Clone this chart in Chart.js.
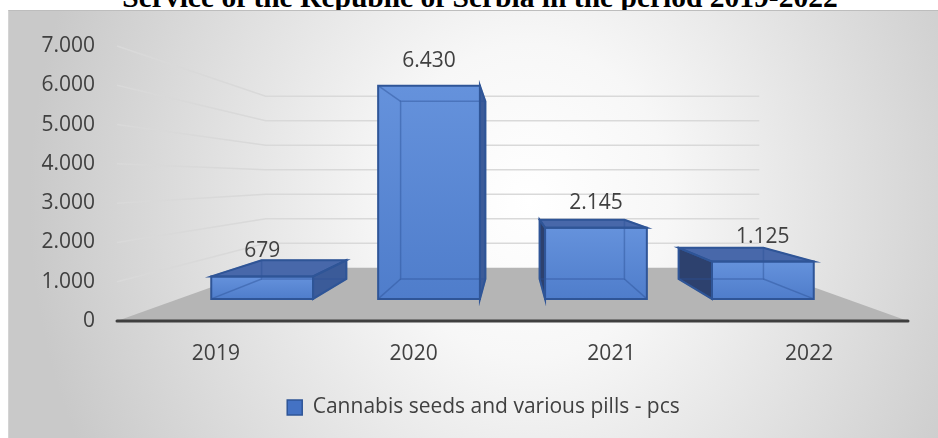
<!DOCTYPE html>
<html>
<head>
<meta charset="utf-8">
<title>Cannabis seeds and various pills</title>
<script src="https://cdn.jsdelivr.net/npm/chart.js@4.4.1/dist/chart.umd.min.js"></script>
<style>
  html, body { margin: 0; padding: 0; background: #fff; overflow: hidden; }
  #wrap { position: relative; width: 938px; height: 438px; overflow: hidden; }
  #heading {
    position: absolute; left: 0; top: -20px; width: 960px;
    text-align: center; white-space: nowrap; color: #000;
    font: bold 29.5px/34px 'Liberation Serif', 'Times New Roman', serif;
  }
  #panel {
    position: absolute; left: 8px; top: 10px; right: 0; bottom: 0;
    border-top: 1px solid #bdbdbd; border-left: 1px solid #d4d4d4;
    background: radial-gradient(ellipse 500px 560px at 520px 190px, #ffffff 0%, #f7f7f7 28%, #c9c9c9 100%);
  }
  #chart { position: absolute; left: 0; top: 0; }
</style>
</head>
<body>
<div id="wrap">
  <div id="heading">Service of the Republic of Serbia in the period 2019-2022</div>
  <div id="panel"></div>
  <canvas id="chart" width="938" height="438"></canvas>
</div>
<script>
const YEARS = ['2019', '2020', '2021', '2022'];
const SEEDS_PILLS = [679, 6430, 2145, 1125];
const SERIES_LABEL = 'Cannabis seeds and various pills - pcs';
const Y_TICK_VALUES = [0, 1000, 2000, 3000, 4000, 5000, 6000, 7000];
const Y_TICK_LABELS = ['0', '1.000', '2.000', '3.000', '4.000', '5.000', '6.000', '7.000'];

const TEXT = '#404040';
const FONT = { family: "'Open Sans', 'Noto Sans', sans-serif", size: 21 };

// depth of each plane, as a fraction of the way to the vanishing point
const DEPTH = { barFront: 0.156, barBack: 0.297, wall: 0.376 };

const fmt = v => String(v).replace(/\B(?=(\d{3})+(?!\d))/g, '.');

function poly(ctx, pts) {
  ctx.beginPath();
  ctx.moveTo(pts[0][0], pts[0][1]);
  for (let i = 1; i < pts.length; i++) ctx.lineTo(pts[i][0], pts[i][1]);
  ctx.closePath();
}

const scene3d = {
  id: 'scene3d',
  // legend sits a bit right of the padded centre
  afterLayout(chart) {
    chart.legend.left += 16;
    chart.legend.right += 16;
  },
  beforeDatasetsDraw(chart) {
    const { ctx, chartArea: a, scales: { y } } = chart;
    const vp = { x: (a.left + a.right) / 2, y: a.top + 0.485 * (a.bottom - a.top) };
    const P = (px, py, k) => [px + k * (vp.x - px), py + k * (vp.y - py)];
    const y0 = y.getPixelForValue(0);

    ctx.save();

    // floor
    poly(ctx, [[a.left, y0], [a.right, y0], P(a.right, y0, DEPTH.wall), P(a.left, y0, DEPTH.wall)]);
    ctx.fillStyle = '#b5b5b5';
    ctx.fill();

    // side wall + back wall gridlines
    ctx.strokeStyle = '#d9d9d9';
    ctx.lineWidth = 1.5;
    Y_TICK_VALUES.slice(1).forEach(v => {
      const yy = y.getPixelForValue(v);
      const c1 = P(a.left, yy, DEPTH.wall), c2 = P(a.right, yy, DEPTH.wall);
      ctx.beginPath();
      ctx.moveTo(a.left, yy);
      ctx.lineTo(c1[0], c1[1]);
      ctx.lineTo(c2[0], c2[1]);
      ctx.stroke();
    });

    // category axis line
    ctx.strokeStyle = '#3f3f3f';
    ctx.lineWidth = 3;
    ctx.lineCap = 'round';
    ctx.beginPath();
    ctx.moveTo(a.left, y0);
    ctx.lineTo(a.right, y0);
    ctx.stroke();
    ctx.lineCap = 'butt';

    // boxes
    const meta = chart.getDatasetMeta(0);
    meta.data.forEach((bar, i) => {
      const { x: cx, y: top, base, width } = bar.getProps(['x', 'y', 'base', 'width'], true);
      const L = cx - width / 2, R = cx + width / 2;
      const f = (px, py) => P(px, py, DEPTH.barFront);
      const b = (px, py) => P(px, py, DEPTH.barBack);
      const fLT = f(L, top), fRT = f(R, top), fRB = f(R, base), fLB = f(L, base);
      const bLT = b(L, top), bRT = b(R, top), bRB = b(R, base), bLB = b(L, base);

      const rightVis = bRT[0] > fRT[0];
      const leftVis = bLT[0] < fLT[0];
      const topVis = bLT[1] < fLT[1];

      // faces seen from outside
      if (leftVis) { poly(ctx, [fLT, bLT, bLB, fLB]); ctx.fillStyle = '#2d416e'; ctx.fill(); }
      if (rightVis) { poly(ctx, [fRT, bRT, bRB, fRB]); ctx.fillStyle = '#3b5b99'; ctx.fill(); }
      if (topVis) { poly(ctx, [fLT, fRT, bRT, bLT]); ctx.fillStyle = '#4868aa'; ctx.fill(); }

      // front face
      const g = ctx.createLinearGradient(0, fLT[1], 0, fLB[1]);
      g.addColorStop(0, '#6592dc');
      g.addColorStop(1, '#4f7dcb');
      poly(ctx, [fLT, fRT, fRB, fLB]);
      ctx.fillStyle = g;
      ctx.fill();

      // edges behind the front face
      ctx.strokeStyle = 'rgba(44, 82, 150, 0.45)';
      ctx.lineWidth = 1.5;
      poly(ctx, [bLT, bRT, bRB, bLB]); ctx.stroke();
      [[fLT, bLT], [fRT, bRT], [fRB, bRB], [fLB, bLB]].forEach(([p, q]) => {
        ctx.beginPath(); ctx.moveTo(p[0], p[1]); ctx.lineTo(q[0], q[1]); ctx.stroke();
      });

      // outline
      ctx.strokeStyle = '#2f5597';
      ctx.lineWidth = 2;
      poly(ctx, [fLT, fRT, fRB, fLB]); ctx.stroke();
      if (leftVis) { poly(ctx, [fLT, bLT, bLB, fLB]); ctx.stroke(); }
      if (rightVis) { poly(ctx, [fRT, bRT, bRB, fRB]); ctx.stroke(); }
      if (topVis) { poly(ctx, [fLT, fRT, bRT, bLT]); ctx.stroke(); }

      // value label
      ctx.fillStyle = TEXT;
      ctx.font = `${FONT.size}px ${FONT.family}`;
      ctx.textAlign = 'center';
      ctx.textBaseline = 'middle';
      ctx.fillText(fmt(SEEDS_PILLS[i]), (fLT[0] + fRT[0]) / 2, fLT[1] - 25);
    });

    ctx.restore();
    return false;
  }
};

new Chart(document.getElementById('chart'), {
  type: 'bar',
  data: {
    labels: YEARS,
    datasets: [{
      label: SERIES_LABEL,
      data: SEEDS_PILLS,
      backgroundColor: '#4472c4',
      borderColor: '#2f5597',
      borderWidth: 1.5,
      categoryPercentage: 1,
      barPercentage: 0.61
    }]
  },
  options: {
    responsive: false,
    animation: false,
    devicePixelRatio: 1,
    layout: { padding: { left: 27, right: 30, top: 46, bottom: 10 } },
    scales: {
      x: {
        grid: { display: false, drawTicks: false },
        border: { display: false },
        ticks: { color: TEXT, font: FONT, padding: 20, maxRotation: 0 },
        afterFit(s) { s.height = 66; }
      },
      y: {
        min: 0,
        max: 7000,
        grid: { display: false, drawTicks: false },
        border: { display: false },
        ticks: {
          stepSize: 1000,
          color: TEXT,
          font: FONT,
          padding: 22,
          callback: (v, i) => Y_TICK_LABELS[i]
        },
        afterFit(s) { s.width = 90; }
      }
    },
    plugins: {
      legend: {
        position: 'bottom',
        labels: { boxWidth: 15, boxHeight: 15, color: TEXT, font: FONT, padding: 10 }
      },
      tooltip: { enabled: false }
    }
  },
  plugins: [scene3d]
});
</script>
</body>
</html>
